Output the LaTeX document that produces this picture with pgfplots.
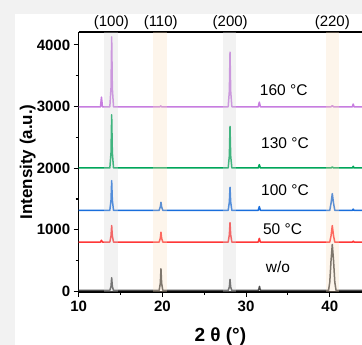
\documentclass[border=0pt]{standalone}
\usepackage{pgfplots}
\pgfplotsset{compat=1.18}
\usepackage{fontspec}
\setmainfont{Liberation Sans}
\definecolor{cpur}{RGB}{199,125,224}
\definecolor{cgrn}{RGB}{0,166,90}
\definecolor{cblu}{RGB}{25,110,220}
\definecolor{cred}{RGB}{255,55,55}
\definecolor{cwo}{RGB}{75,75,75}
\definecolor{bgray}{RGB}{215,215,215}
\definecolor{bora}{RGB}{250,222,190}
\begin{document}
\begin{tikzpicture}
\fill[black!5] (0pt,0pt) rectangle (362pt,345pt);
\fill[white] (15pt,0pt) rectangle (362pt,331pt);
\begin{axis}[
  at={(78.7pt,53pt)}, anchor=south west,
  width=283.3pt, height=260pt, scale only axis,
  xmin=10, xmax=43.85, ymin=-10, ymax=4210,
  axis x line*=box, axis y line*=left,
  xtick pos=bottom, ytick pos=left,
  tick align=outside,
  xtick={10,20,30,40}, ytick={0,1000,2000,3000,4000},
  minor tick num=1,
  major tick length=5pt, minor tick length=3pt,
  axis line style={line width=1.2pt},
  every tick/.style={line width=1.1pt, black},
  /pgf/number format/assume math mode=true,
  /pgf/number format/set thousands separator={},
  tick label style={font=\bfseries\fontsize{15}{18}\selectfont},
  xlabel={2 θ (°)}, ylabel={Intensity (a.u.)},
  xlabel style={font=\bfseries\fontsize{19}{22}\selectfont, at={(axis description cs:0.5,-0.17)}, anchor=center},
  ylabel style={font=\bfseries\fontsize{17}{20}\selectfont, at={(axis description cs:-0.18,0.5)}, anchor=center},
  clip=false,
  every axis plot/.append style={line width=1.5pt, line join=round},
]
% w/o
\addplot[cwo, mark=none] coordinates {
(10,15)(13.72,15)(13.86,80)(13.94,222)(14.02,80)(14.16,15)
(19.61,15)(19.75,130)(19.83,367)(19.91,130)(20.05,15)
(27.86,15)(28.0,70)(28.08,194)(28.16,70)(28.30,15)
(31.45,15)(31.54,40)(31.6,80)(31.66,40)(31.75,15)
(39.85,15)(40.0,150)(40.15,500)(40.3,761)(40.45,500)(40.6,150)(40.75,15)(43.85,15)};
% 50 C
\addplot[cred, mark=none] coordinates {
(10,800)(12.6,800)(12.72,830)(12.84,800)
(13.72,800)(13.86,900)(13.94,1068)(14.02,900)(14.16,800)
(19.61,800)(19.75,860)(19.83,960)(19.91,860)(20.05,800)
(27.86,800)(28.0,920)(28.08,1117)(28.16,920)(28.30,800)
(31.45,800)(31.58,860)(31.71,800)
(40.0,800)(40.15,900)(40.3,1068)(40.45,900)(40.6,800)
(42.7,800)(42.8,815)(42.9,800)(43.85,800)};
% 100 C
\addplot[cblu, mark=none] coordinates {
(10,1315)(13.72,1315)(13.86,1480)(13.94,1797)(14.02,1480)(14.16,1315)
(19.61,1315)(19.75,1370)(19.83,1446)(19.91,1370)(20.05,1315)
(27.86,1315)(28.0,1450)(28.08,1690)(28.16,1450)(28.30,1315)
(31.45,1315)(31.58,1376)(31.71,1315)
(40.0,1315)(40.15,1430)(40.3,1587)(40.45,1430)(40.6,1315)
(42.7,1315)(42.8,1335)(42.9,1315)(43.85,1315)};
% 130 C
\addplot[cgrn, mark=none] coordinates {
(10,2003)(13.72,2003)(13.86,2250)(13.94,2866)(14.02,2250)(14.16,2003)
(27.86,2003)(28.0,2200)(28.08,2677)(28.16,2200)(28.30,2003)
(31.45,2003)(31.58,2057)(31.71,2003)
(40.15,2003)(40.3,2020)(40.45,2003)
(42.7,2003)(42.8,2030)(42.9,2003)(43.85,2003)};
% 160 C
\addplot[cpur, mark=none] coordinates {
(10,2996)(12.6,2996)(12.72,3153)(12.84,2996)
(13.72,2996)(13.86,3300)(13.94,4130)(14.02,3300)(14.16,2996)
(19.7,2996)(19.8,3010)(19.9,2996)
(27.86,2996)(28.0,3250)(28.08,3882)(28.16,3250)(28.30,2996)
(31.45,2996)(31.58,3072)(31.71,2996)
(40.15,2996)(40.3,3015)(40.45,2996)
(42.7,2996)(42.8,3040)(42.9,2996)(43.85,2996)};
% bands
\fill[bgray, opacity=0.3] (axis cs:13.03,-10) rectangle (axis cs:14.70,4210);
\fill[bora, opacity=0.3] (axis cs:18.88,-10) rectangle (axis cs:20.55,4210);
\fill[bgray, opacity=0.3] (axis cs:27.20,-10) rectangle (axis cs:28.80,4210);
\fill[bora, opacity=0.3] (axis cs:39.55,-10) rectangle (axis cs:41.10,4210);
% top labels
\begin{scope}[every node/.style={font=\fontsize{15}{18}\selectfont, anchor=base}]
\node at (axis cs:13.9,4210) [yshift=5pt] {(100)};
\node at (axis cs:19.8,4210) [yshift=5pt] {(110)};
\node at (axis cs:28.1,4210) [yshift=5pt] {(200)};
\node at (axis cs:40.3,4210) [yshift=5pt] {(220)};
\end{scope}
\begin{scope}[every node/.style={font=\fontsize{15.5}{18}\selectfont, anchor=center}]
\node at (axis cs:34.5,3263) {160 °C};
\node at (axis cs:34.65,2408) {130 °C};
\node at (axis cs:34.65,1641) {100 °C};
\node at (axis cs:34.35,1010) {50 °C};
\node at (axis cs:33.8,394) {w/o};
\end{scope}
\end{axis}
\pgfresetboundingbox
\path[use as bounding box] (0pt,0pt) rectangle (362pt,345pt);
\end{tikzpicture}
\end{document}
